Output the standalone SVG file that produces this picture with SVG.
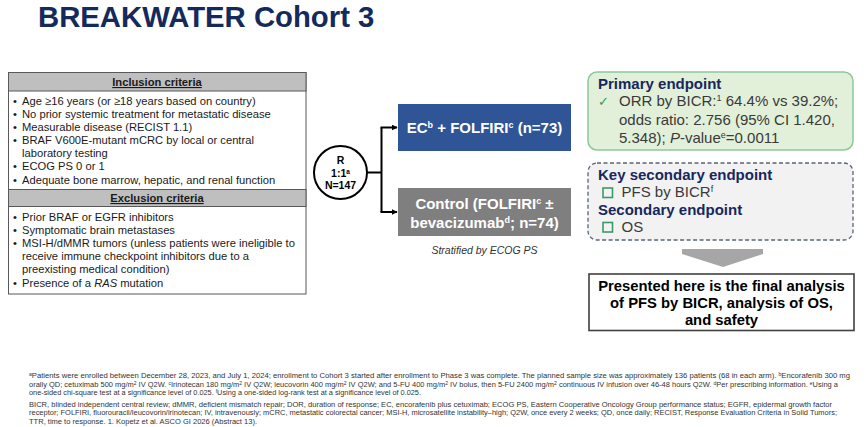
<svg xmlns="http://www.w3.org/2000/svg" width="865" height="427" viewBox="0 0 865 427">
<defs>
<style>
text{font-family:"Liberation Sans",Arial,sans-serif}
.title{font-size:29.3px;font-weight:bold;fill:#142a5c}
.hdr{font-size:11.2px;font-weight:bold;fill:#1a1a1a;text-decoration:underline}
.li{font-size:11.2px;fill:#1a1a1a}
.arm{font-size:15px;font-weight:bold;fill:#ffffff}
.rt{font-size:10.5px;font-weight:bold;fill:#000}
.ep{font-size:15px;font-weight:bold;fill:#17275e}
.eb{font-size:15px;fill:#3a3a3a}
.pres{font-size:14.8px;font-weight:bold;fill:#000}
.fn{font-size:6.9px;fill:#333}
.sup{font-size:4.6px}
.strat{font-size:10.5px;font-style:italic;fill:#333}
.band{fill:#bfbfbf;stroke:#595959;stroke-width:1}
.sq{fill:none;stroke:#3a9a6a;stroke-width:1.6}
</style>
<marker id="ah" viewBox="0 0 10 10" refX="9" refY="5" markerWidth="6" markerHeight="6" orient="auto" markerUnits="userSpaceOnUse">
<path d="M0,0 L10,5 L0,10 z" fill="#000"/>
</marker>
</defs>
<rect width="865" height="427" fill="#ffffff"/>
<text class="title" x="38" y="27">BREAKWATER Cohort 3</text>

<g id="criteria">
<rect x="8.5" y="72.5" width="297.5" height="221.5" fill="#fff" stroke="#595959" stroke-width="1"/>
<rect class="band" x="8.5" y="72.5" width="297.5" height="18.5"/>
<text class="hdr" x="157" y="86" text-anchor="middle">Inclusion criteria</text>
<text class="li" x="13" y="105">•</text><text class="li" x="22" y="105">Age ≥16 years (or ≥18 years based on country)</text>
<text class="li" x="13" y="118">•</text><text class="li" x="22" y="118">No prior systemic treatment for metastatic disease</text>
<text class="li" x="13" y="131">•</text><text class="li" x="22" y="131">Measurable disease (RECIST 1.1)</text>
<text class="li" x="13" y="144">•</text><text class="li" x="22" y="144">BRAF V600E-mutant mCRC by local or central</text>
<text class="li" x="22" y="157">laboratory testing</text>
<text class="li" x="13" y="170">•</text><text class="li" x="22" y="170">ECOG PS 0 or 1</text>
<text class="li" x="13" y="184">•</text><text class="li" x="22" y="184">Adequate bone marrow, hepatic, and renal function</text>
<rect class="band" x="8.5" y="189.5" width="297.5" height="17"/>
<text class="hdr" x="157" y="202" text-anchor="middle">Exclusion criteria</text>
<text class="li" x="13" y="221">•</text><text class="li" x="22" y="221">Prior BRAF or EGFR inhibitors</text>
<text class="li" x="13" y="234">•</text><text class="li" x="22" y="234">Symptomatic brain metastases</text>
<text class="li" x="13" y="247">•</text><text class="li" x="22" y="247">MSI-H/dMMR tumors (unless patients were ineligible to</text>
<text class="li" x="22" y="260">receive immune checkpoint inhibitors due to a</text>
<text class="li" x="22" y="273">preexisting medical condition)</text>
<text class="li" x="13" y="287">•</text><text class="li" x="22" y="287">Presence of a <tspan font-style="italic">RAS</tspan> mutation</text>
</g>

<g id="randomization">
<circle cx="340.5" cy="172.5" r="26.5" fill="#fff" stroke="#000" stroke-width="2"/>
<text class="rt" x="340.5" y="164" text-anchor="middle">R</text>
<text class="rt" x="340.5" y="176.5" text-anchor="middle">1:1<tspan font-size="6.5" baseline-shift="super">a</tspan></text>
<text class="rt" x="340.5" y="189" text-anchor="middle">N=147</text>
</g>

<g id="connectors" fill="none" stroke="#000" stroke-width="2">
<path d="M367,172.5 H381.5"/>
<path d="M381.5,127.5 V212"/>
<path d="M380.5,127.5 H397" marker-end="url(#ah)"/>
<path d="M380.5,212 H397" marker-end="url(#ah)"/>
</g>

<g id="arm-ec">
<rect x="398" y="104" width="173" height="47" fill="#2f5597"/>
<text class="arm" x="484.5" y="133" text-anchor="middle">EC<tspan font-size="9" baseline-shift="super">b</tspan> + FOLFIRI<tspan font-size="9" baseline-shift="super">c</tspan> (n=73)</text>
</g>

<g id="arm-control">
<rect x="398" y="188" width="173" height="48" fill="#7f7f7f"/>
<text class="arm" x="484.5" y="209" text-anchor="middle">Control (FOLFIRI<tspan font-size="9" baseline-shift="super">c</tspan> ±</text>
<text class="arm" x="484.5" y="228" text-anchor="middle">bevacizumab<tspan font-size="9" baseline-shift="super">d</tspan>; n=74)</text>
</g>

<g id="stratified">
<text class="strat" x="484.5" y="254" text-anchor="middle">Stratified by ECOG PS</text>
</g>

<g id="primary-endpoint">
<rect x="588" y="72" width="265" height="78" rx="9" fill="#e2f0d9" stroke="#8cc79d" stroke-width="1.5"/>
<text class="ep" x="598" y="89">Primary endpoint</text>
<text x="598" y="106" font-size="13" fill="#2e9a5a" font-family="DejaVu Sans,sans-serif">✓</text>
<text class="eb" x="619" y="106">ORR by BICR:<tspan font-size="9" baseline-shift="super">1</tspan> 64.4% vs 39.2%;</text>
<text class="eb" x="619" y="124.5">odds ratio: 2.756 (95% CI 1.420,</text>
<text class="eb" x="619" y="142.5">5.348); <tspan font-style="italic">P</tspan>-value<tspan font-size="9" baseline-shift="super">e</tspan>=0.0011</text>
</g>

<g id="secondary-endpoints">
<rect x="588" y="163" width="265" height="77" rx="9" fill="#f2f2f2" stroke="#5a6475" stroke-width="1.3" stroke-dasharray="4,2.5"/>
<text class="ep" x="598" y="180">Key secondary endpoint</text>
<rect class="sq" x="603" y="188" width="9.5" height="9.5"/>
<text class="eb" x="621.5" y="197">PFS by BICR<tspan font-size="9" baseline-shift="super">f</tspan></text>
<text class="ep" x="598" y="215">Secondary endpoint</text>
<rect class="sq" x="603" y="222.5" width="9.5" height="9.5"/>
<text class="eb" x="621.5" y="231.5">OS</text>
</g>

<g id="down-arrow">
<polygon points="682,249 763,249 763,254 723,267 682,254" fill="#a6a6a6"/>
</g>

<g id="presented">
<rect x="589" y="274" width="265" height="56.5" fill="#fff" stroke="#404040" stroke-width="1.6"/>
<text class="pres" x="721.5" y="291" text-anchor="middle">Presented here is the final analysis</text>
<text class="pres" x="721.5" y="308" text-anchor="middle">of PFS by BICR, analysis of OS,</text>
<text class="pres" x="721.5" y="324.5" text-anchor="middle">and safety</text>
</g>

<g id="footnotes">
<text class="fn" x="29" y="378.3" textLength="821" lengthAdjust="spacingAndGlyphs"><tspan class="sup" baseline-shift="super">a</tspan>Patients were enrolled between December 28, 2023, and July 1, 2024; enrollment to Cohort 3 started after enrollment to Phase 3 was complete. The planned sample size was approximately 136 patients (68 in each arm). <tspan class="sup" baseline-shift="super">b</tspan>Encorafenib 300 mg</text>
<text class="fn" x="29" y="386.6" textLength="809" lengthAdjust="spacingAndGlyphs">orally QD; cetuximab 500 mg/m<tspan class="sup" baseline-shift="super">2</tspan> IV Q2W. <tspan class="sup" baseline-shift="super">c</tspan>Irinotecan 180 mg/m<tspan class="sup" baseline-shift="super">2</tspan> IV Q2W; leucovorin 400 mg/m<tspan class="sup" baseline-shift="super">2</tspan> IV Q2W; and 5-FU 400 mg/m<tspan class="sup" baseline-shift="super">2</tspan> IV bolus, then 5-FU 2400 mg/m<tspan class="sup" baseline-shift="super">2</tspan> continuous IV infusion over 46-48 hours Q2W. <tspan class="sup" baseline-shift="super">d</tspan>Per prescribing information. <tspan class="sup" baseline-shift="super">e</tspan>Using a</text>
<text class="fn" x="29" y="394.9" textLength="392" lengthAdjust="spacingAndGlyphs">one-sided chi-square test at a significance level of 0.025. <tspan class="sup" baseline-shift="super">f</tspan>Using a one-sided log-rank test at a significance level of 0.025.</text>
<text class="fn" x="29" y="407" textLength="803" lengthAdjust="spacingAndGlyphs">BICR, blinded independent central review; dMMR, deficient mismatch repair; DOR, duration of response; EC, encorafenib plus cetuximab; ECOG PS, Eastern Cooperative Oncology Group performance status; EGFR, epidermal growth factor</text>
<text class="fn" x="29" y="415.3" textLength="808" lengthAdjust="spacingAndGlyphs">receptor; FOLFIRI, fluorouracil/leucovorin/irinotecan; IV, intravenously; mCRC, metastatic colorectal cancer; MSI-H, microsatellite instability–high; Q2W, once every 2 weeks; QD, once daily; RECIST, Response Evaluation Criteria in Solid Tumors;</text>
<text class="fn" x="29" y="423.6" textLength="228" lengthAdjust="spacingAndGlyphs">TTR, time to response. 1. Kopetz et al. ASCO GI 2026 (Abstract 13).</text>
</g>
</svg>
